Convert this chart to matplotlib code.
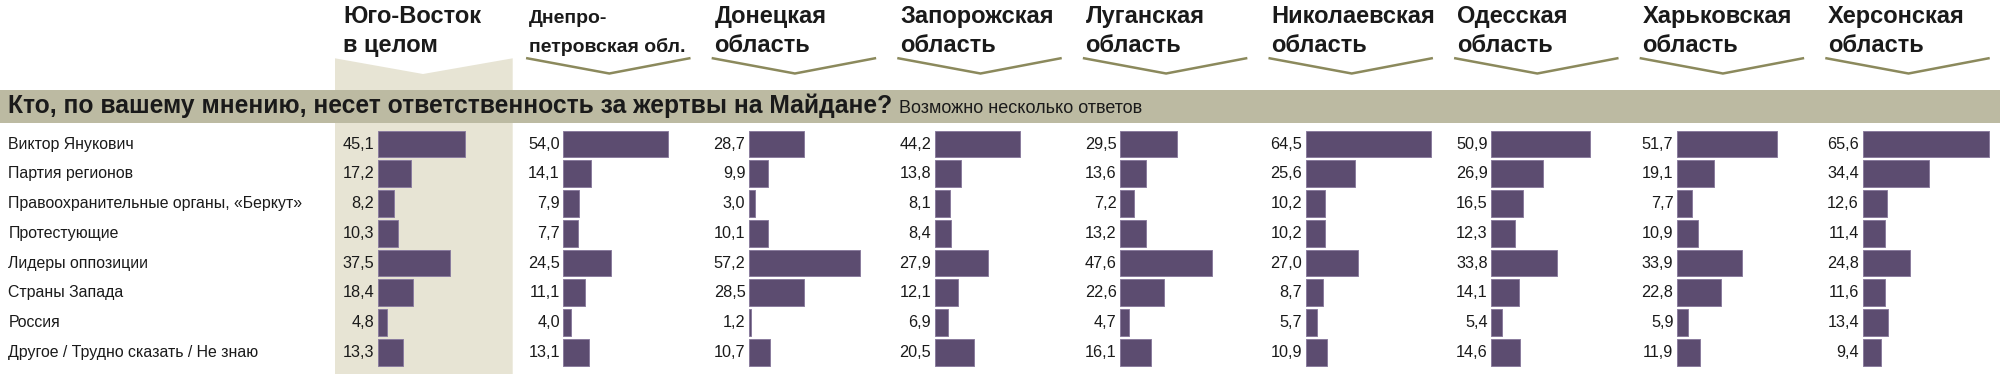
import matplotlib

matplotlib.use("Agg")
import matplotlib.pyplot as plt
from matplotlib.patches import Polygon, Rectangle

W, H = 2000, 374
BAR, BAR_EDGE = "#5c4c70", "#8a7c9e"
SHADE, BAND, OLIVE, INK = "#e7e4d4", "#bcbaa2", "#8b895c", "#1a1a1a"
FONT = ["Liberation Sans", "DejaVu Sans"]
plt.rcParams["font.family"] = FONT

answers = ["Виктор Янукович", "Партия регионов", "Правоохранительные органы, «Беркут»",
           "Протестующие", "Лидеры оппозиции", "Страны Запада", "Россия",
           "Другое / Трудно сказать / Не знаю"]
headers = [("Юго-Восток", "в целом"), ("Днепро-", "петровская обл."), ("Донецкая", "область"),
           ("Запорожская", "область"), ("Луганская", "область"), ("Николаевская", "область"),
           ("Одесская", "область"), ("Харьковская", "область"), ("Херсонская", "область")]
south_east = [45.1, 17.2, 8.2, 10.3, 37.5, 18.4, 4.8, 13.3]
dnipro = [54.0, 14.1, 7.9, 7.7, 24.5, 11.1, 4.0, 13.1]
donetsk = [28.7, 9.9, 3.0, 10.1, 57.2, 28.5, 1.2, 10.7]
zaporizhia = [44.2, 13.8, 8.1, 8.4, 27.9, 12.1, 6.9, 20.5]
luhansk = [29.5, 13.6, 7.2, 13.2, 47.6, 22.6, 4.7, 16.1]
mykolaiv = [64.5, 25.6, 10.2, 10.2, 27.0, 8.7, 5.7, 10.9]
odesa = [50.9, 26.9, 16.5, 12.3, 33.8, 14.1, 5.4, 14.6]
kharkiv = [51.7, 19.1, 7.7, 10.9, 33.9, 22.8, 5.9, 11.9]
kherson = [65.6, 34.4, 12.6, 11.4, 24.8, 11.6, 13.4, 9.4]
columns = [south_east, dnipro, donetsk, zaporizhia, luhansk, mykolaiv, odesa, kharkiv, kherson]

question = "Кто, по вашему мнению, несет ответственность за жертвы на Майдане?"
note = "Возможно несколько ответов"

# layout in pixels (top-left origin)
X0, STEP, PX_PER_PCT = 377.7, 185.6, 1.935
ROW0, ROW_STEP = 144.0, 29.76

fig = plt.figure(figsize=(W / 100, H / 100), dpi=100)
fig.patch.set_facecolor("white")
bg = fig.add_axes([0, 0, 1, 1])
bg.set_xlim(0, W); bg.set_ylim(H, 0); bg.axis("off")

# shaded summary column with notched top, then the question band over it
s = X0
bg.add_patch(Polygon([(s - 42.7, 58.3), (s + 45.3, 74), (s + 135, 58.3), (s + 135, H), (s - 42.7, H)],
                     closed=True, facecolor=SHADE, edgecolor="none"))
bg.add_patch(Rectangle((0, 90), W, 33.3, facecolor=BAND, edgecolor="none"))
bg.text(8.3, 113.3, question, fontsize=17.75, fontweight="bold", color=INK, va="baseline")
bg.text(899, 113.3, note, fontsize=13, color=INK, va="baseline")

for k, (l1, l2) in enumerate(headers):
    s = X0 + STEP * k
    fs = 14 if k == 1 else 17
    bg.text(s - 34.5, 23.3, l1, fontsize=fs, fontweight="bold", color=INK, va="baseline")
    bg.text(s - 34.5, 51.5, l2, fontsize=fs, fontweight="bold", color=INK, va="baseline")
    if k > 0:
        bg.plot([s - 36, s + 46, s + 126], [58.3, 73.5, 58.3], color=OLIVE, lw=1.8,
                solid_joinstyle="miter")

top = ROW0 - ROW_STEP / 2
height = ROW_STEP * len(answers)
for k, vals in enumerate(columns):
    s = X0 + STEP * k
    wpx = min(170, W - s)
    ax = fig.add_axes([s / W, 1 - (top + height) / H, wpx / W, height / H])
    ax.set_xlim(0, wpx / PX_PER_PCT)
    ax.set_ylim(len(answers) - 0.5, -0.5)
    ax.axis("off")
    ax.barh(range(len(vals)), vals, height=0.9, color=BAR, edgecolor=BAR_EDGE, linewidth=0.7)
    for i, v in enumerate(vals):
        ax.annotate(f"{v:.1f}".replace(".", ","), xy=(0, i), xytext=(-3.5, 0),
                    textcoords="offset pixels", ha="right", va="center",
                    fontsize=11.7, color=INK, annotation_clip=False)
    if k == 0:
        for i, a in enumerate(answers):
            ax.annotate(a, xy=(8.3, i), xycoords=("figure pixels", "data"),
                        ha="left", va="center", fontsize=11.4, color=INK,
                        annotation_clip=False)

fig.savefig("out.png", dpi=100, facecolor="white")
